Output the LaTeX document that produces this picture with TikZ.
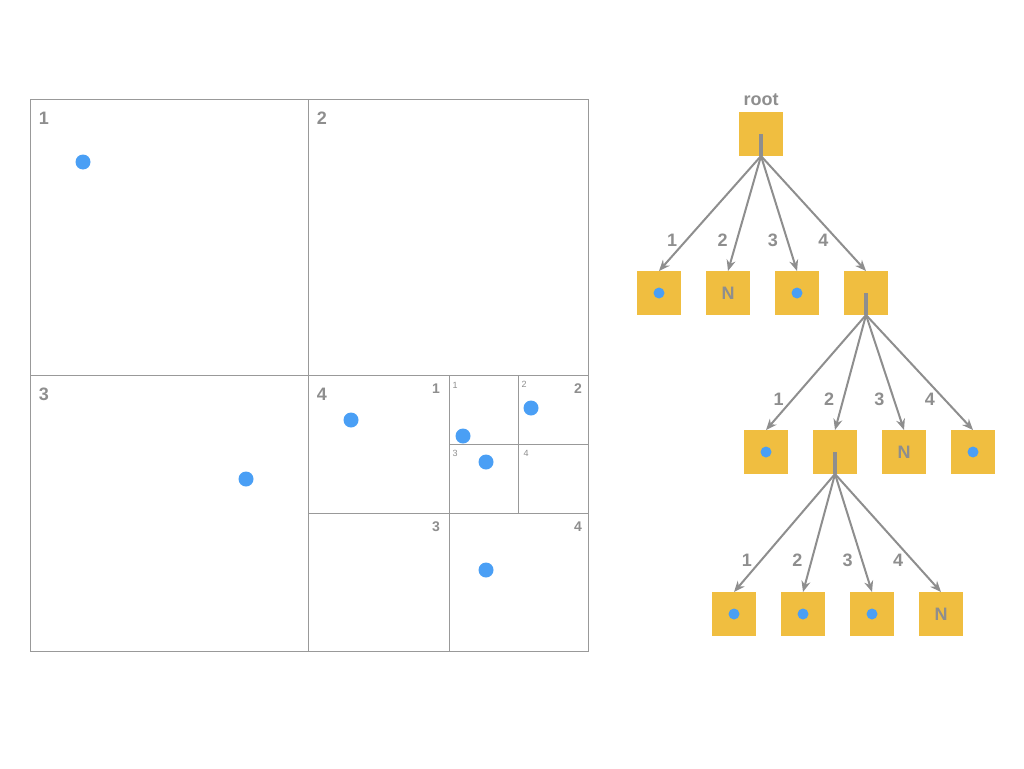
\documentclass[tikz,border=0pt]{standalone}
\usepackage{fontspec}
\setmainfont{Liberation Sans}
\usepackage{xcolor}
\usetikzlibrary{arrows.meta, positioning}

\definecolor{boxyellow}{HTML}{F0BE40}
\definecolor{linegray}{HTML}{8E8E8E}
\definecolor{dotblue}{HTML}{4A9FF5}

\tikzset{
  qbox/.style={fill=boxyellow, minimum size=44pt, inner sep=0pt, outer sep=0pt,
    font=\fontsize{18}{20}\selectfont\bfseries, text=linegray},
  qlabel/.style={font=\fontsize{18}{20}\selectfont\bfseries, text=linegray},
  sublabel/.style={font=\fontsize{14}{16}\selectfont\bfseries, text=linegray},
  tinylabel/.style={font=\fontsize{9}{10}\selectfont, text=linegray},
  child/.style={draw=linegray, line width=2pt, -{Stealth[length=11pt, width=9pt]}},
  stub/.style={draw=linegray, line width=3.5pt},
  grid/.style={draw=linegray!90, line width=0.9pt}
}

\begin{document}
\begin{tikzpicture}[x=1pt, y=-1pt, node distance=25pt]
\useasboundingbox (0,0) rectangle (1024,768);

% quadtree cells
\draw[grid] (30,99) rectangle (588,651);
\draw[grid] (308,99) -- (308,651);
\draw[grid] (30,375) -- (588,375);
\draw[grid] (449,375) -- (449,651);
\draw[grid] (308,513) -- (588,513);
\draw[grid] (518,375) -- (518,513);
\draw[grid] (449,444) -- (588,444);

% cell numbers
\node[qlabel] (q1) at (44,118) {1};
\node[qlabel] (q2) at (322,118) {2};
\node[qlabel] (q3) at (44,394) {3};
\node[qlabel] (q4) at (322,394) {4};
\node[sublabel] (s1) at (436,389) {1};
\node[sublabel] (s2) at (578,389) {2};
\node[sublabel] (s3) at (436,527) {3};
\node[sublabel] (s4) at (578,527) {4};
\node[tinylabel] (t1) at (455,385) {1};
\node[tinylabel] (t2) at (524,384) {2};
\node[tinylabel] (t3) at (455,453) {3};
\node[tinylabel] (t4) at (526,453) {4};

% points
\foreach \px/\py in {83/162, 246/479, 351/420, 463/436, 531/408, 486/462, 486/570}
  \fill[dotblue] (\px,\py) circle (7.5pt);

% tree
\node[qbox] (root) at (761,134) {};
\node[qlabel, above=3pt of root] (rootlabel) {root};

\node[qbox] (a1) at (659,293) {};
\node[qbox, right=of a1] (a2) {N};
\node[qbox, right=of a2] (a3) {};
\node[qbox, right=of a3] (a4) {};

\node[qbox] (b1) at (766,452) {};
\node[qbox, right=of b1] (b2) {};
\node[qbox, right=of b2] (b3) {N};
\node[qbox, right=of b3] (b4) {};

\node[qbox] (c1) at (734,614) {};
\node[qbox, right=of c1] (c2) {};
\node[qbox, right=of c2] (c3) {};
\node[qbox, right=of c3] (c4) {N};

\foreach \n in {a1, a3, b1, b4, c1, c2, c3}
  \fill[dotblue] (\n) circle (5.5pt);

\draw[stub] (root.center) -- (root.south);
\draw[stub] (a4.center) -- (a4.south);
\draw[stub] (b2.center) -- (b2.south);

\foreach \p/\c in {root/a, a4/b, b2/c}
  \foreach \i in {1,...,4}
    \draw[child] (\p.south) -- node[qlabel, left=5pt, pos=0.73] {\i} (\c\i.north);
\end{tikzpicture}
\end{document}
